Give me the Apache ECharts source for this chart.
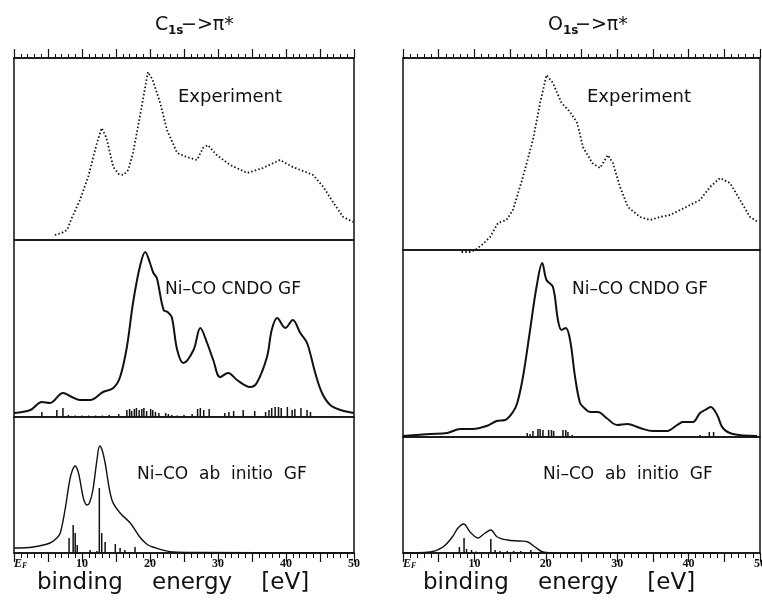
<!DOCTYPE html>
<html>
<head>
<meta charset="utf-8">
<script src="https://cdn.jsdelivr.net/npm/echarts@6/dist/echarts.min.js"></script>
<style>
html, body { margin: 0; padding: 0; background: #fff; }
#chart { width: 762px; height: 610px; }
</style>
</head>
<body>
<div id="chart"></div>
<script>
'use strict';

// [binding energy (eV), intensity (arb. units)]
// C1s -> pi*
var c1sExp = [[6.0, 5], [7.0, 7], [7.8, 10], [8.5, 22], [9.7, 40], [10.9, 63], [12.2, 97], [12.9, 112],
	[13.6, 102], [14.6, 73], [15.4, 66], [16.1, 65], [16.8, 70], [17.5, 87], [18.5, 123], [19.3, 153],
	[19.7, 168], [20.4, 160], [21.5, 137], [22.5, 110], [24, 87], [25.4, 83], [26.9, 80], [27.8, 92],
	[28.5, 95], [29.8, 85], [31.8, 75], [34.3, 67], [36.6, 72], [39.1, 80], [41, 73], [44, 65],
	[45.5, 53], [47, 37], [48.4, 23], [49.9, 18]];

var c1sCndo = [[0, 4], [2.4, 7], [4.1, 15], [5.3, 14], [7.2, 24], [8.5, 20], [9.7, 17], [11.2, 17],
	[13.1, 25], [14.6, 29], [15.6, 40], [16.6, 70], [17.5, 114], [18.5, 150], [19.3, 165], [20, 154],
	[20.5, 144], [21, 139], [22, 107], [22.6, 105], [23.2, 100], [24, 67], [24.9, 54], [26.4, 67],
	[27.4, 89], [28.4, 74], [29.3, 57], [30.3, 40], [31.5, 44], [32.8, 37], [34.7, 30], [35.7, 34],
	[37.2, 60], [37.9, 87], [38.7, 99], [39.9, 89], [41, 97], [42.1, 84], [43.1, 74], [44.3, 44],
	[45.3, 24], [46.5, 12], [48, 7], [50, 4]];

var c1sCndoLines = [[4.1, 5], [6.3, 7], [7.2, 9], [8, 2], [9, 1.5], [10, 1.5], [11, 1.5], [12, 1.5],
	[13, 1.5], [14, 2], [15.4, 3], [16.6, 7], [17.0, 8], [17.3, 6], [17.7, 8], [18.0, 9], [18.4, 7],
	[18.8, 8], [19.1, 9], [19.5, 6], [20.1, 8], [20.4, 7], [20.8, 5], [21.3, 4], [22.3, 4], [22.7, 3],
	[23.2, 2], [24, 1.5], [25, 2], [26.2, 3], [27.0, 8], [27.4, 9], [27.9, 7], [28.7, 8], [31.0, 4],
	[31.6, 5], [32.3, 6], [33.7, 7], [35.4, 6], [37.0, 5], [37.5, 7], [37.9, 9], [38.4, 10], [38.9, 10],
	[39.3, 9], [40.2, 10], [40.9, 7], [41.3, 8], [42.2, 9], [43.1, 7], [43.6, 5]];

var c1sAb = [[0, 5], [2.8, 6], [5.3, 10], [6.3, 15], [6.8, 20], [7.5, 43], [8.2, 73], [8.6, 83], [9, 87],
	[9.4, 82], [9.7, 73], [10.2, 55], [10.7, 48], [11.1, 50], [11.6, 63], [12.2, 93], [12.6, 107],
	[13.0, 102], [13.4, 90], [14.4, 53], [15.6, 40], [17.1, 30], [18.5, 16], [19.5, 9], [20.4, 6],
	[23.4, 1], [27, 0.5], [50, 0]];

var c1sAbLines = [[8.1, 15], [8.7, 28], [9.0, 20], [9.3, 8], [11.2, 3], [12.2, 2], [12.55, 65],
	[12.9, 20], [13.4, 11], [14.9, 9], [15.6, 5], [16.3, 3], [17.8, 6]];

// O1s -> pi*
var o1sExp = [[8.2, -2], [9.5, -2], [10.3, 1], [11.2, 6], [12.2, 13], [13.3, 27], [14.5, 30], [15.4, 40],
	[16.8, 73], [18.2, 110], [19.2, 147], [20.1, 175], [21, 167], [22.2, 147], [23.4, 138], [24.4, 127],
	[25.2, 103], [26.5, 87], [27.6, 82], [28.7, 95], [29.4, 87], [30.4, 63], [31.5, 43], [33.2, 33],
	[34.6, 30], [36, 33], [37.4, 35], [38.8, 40], [40.2, 45], [41.6, 50], [43, 63], [44.4, 72],
	[45.8, 67], [47.2, 50], [48.6, 33], [49.7, 28]];

var o1sCndo = [[0, 1], [3.8, 3], [6.2, 4], [8, 8], [9.8, 8], [11.7, 11], [13.1, 16], [14.3, 17],
	[15.4, 25], [16, 34], [16.8, 60], [17.8, 107], [18.7, 150], [19.5, 174], [20.1, 157], [21, 150],
	[21.7, 117], [22.2, 107], [22.8, 109], [23.4, 97], [24.1, 60], [24.8, 34], [25.4, 29], [26.2, 25],
	[27.3, 25], [28.5, 19], [30, 12], [31.4, 13], [33.2, 9], [35, 6], [37, 6], [38.4, 12], [39.2, 15],
	[40.6, 15], [41.6, 24], [42.3, 27], [43.1, 30], [44, 22], [44.8, 9], [46.2, 3], [49.6, 1]];

var o1sCndoLines = [[17.4, 4], [17.8, 3], [18.2, 6], [18.9, 8], [19.2, 8], [19.6, 7], [20.4, 7],
	[20.8, 7], [21.1, 6], [22.4, 7], [22.8, 7], [23.1, 5], [23.7, 2], [26.9, 1], [41.6, 2], [42.9, 5],
	[43.5, 5]];

var o1sAb = [[0, 0], [3.8, 1], [5.6, 6], [6.9, 16], [7.7, 25], [8.5, 29], [9.4, 21], [10.5, 15],
	[11.5, 20], [12.3, 23], [13.2, 16], [14.6, 13], [16.4, 12], [17.5, 11], [18.5, 6], [19.6, 1],
	[21.9, 0], [44, 0]];

var o1sAbLines = [[7.9, 6], [8.55, 15], [8.9, 4], [9.6, 3], [10.2, 1.5], [12.3, 14], [12.9, 3],
	[13.6, 2], [14.6, 2], [15.5, 2], [16.5, 2], [17.9, 3]];

var panelNames = ['Experiment', 'Ni\u2013CO CNDO GF', 'Ni\u2013CO  ab  initio  GF'];
var xTickLabels = ['10', '20', '30', '40', '50'];

var myChart = echarts.init(document.getElementById('chart'));

var grids = [
	{ left: 14, top: 58, width: 340, height: 182 },
	{ left: 14, top: 240, width: 340, height: 177 },
	{ left: 14, top: 417, width: 340, height: 136 },
	{ left: 403, top: 58, width: 357, height: 192 },
	{ left: 403, top: 250, width: 357, height: 187 },
	{ left: 403, top: 437, width: 357, height: 116 }
];
for (var i = 0; i < grids.length; i++) {
	grids[i].show = true;
	grids[i].borderColor = '#111';
	grids[i].borderWidth = 1.5;
	grids[i].backgroundColor = 'transparent';
	grids[i].containLabel = false;
	grids[i].outerBoundsMode = 'none';
}

function makeXAxis(idx, where) {
	var ax = {
		type: 'value', gridIndex: idx, min: 0, max: 50, interval: 5,
		splitLine: { show: false },
		axisLine: { show: false },
		axisTick: { show: false },
		minorTick: { show: false },
		axisLabel: { show: false }
	};
	if (where) {
		ax.position = where;
		ax.axisLine = { show: true, onZero: false, lineStyle: { color: '#111', width: 1.5 } };
		ax.axisTick = { show: true, inside: false, length: 9, lineStyle: { color: '#111', width: 1.2 } };
		ax.minorTick = { show: true, splitNumber: 5, length: 4, lineStyle: { color: '#111', width: 1 } };
	}
	if (where === 'bottom') {
		ax.minorTick.length = 5;
		ax.axisLabel = {
			show: true, margin: 5, color: '#111',
			fontFamily: 'Liberation Serif', fontWeight: 'bold', fontSize: 12,
			alignMinLabel: 'left',
			formatter: function (v) {
				if (v === 0) return '{ef|E}{sub|F}';
				var s = String(v);
				return xTickLabels.indexOf(s) >= 0 ? s : '';
			},
			rich: {
				ef: { fontFamily: 'Liberation Serif', fontStyle: 'italic', fontWeight: 'bold', fontSize: 12, color: '#111' },
				sub: { fontFamily: 'Liberation Serif', fontStyle: 'italic', fontWeight: 'bold', fontSize: 8, color: '#111', verticalAlign: 'bottom' }
			}
		};
	}
	return ax;
}

var yMax = [182, 177, 136, 192, 187, 116];
var xAxes = [];
var yAxes = [];
var wheres = ['top', null, 'bottom', 'top', null, 'bottom'];
for (var i = 0; i < 6; i++) {
	xAxes.push(makeXAxis(i, wheres[i]));
	yAxes.push({ type: 'value', gridIndex: i, min: 0, max: yMax[i], show: false });
}

function expSeries(idx, data) {
	return {
		type: 'line', xAxisIndex: idx, yAxisIndex: idx, data: data, symbol: 'none', clip: false,
		lineStyle: { color: '#111', width: 1.8, type: [1.5, 2.2] }
	};
}
function curveSeries(idx, data, w) {
	return {
		type: 'line', xAxisIndex: idx, yAxisIndex: idx, data: data, symbol: 'none', smooth: 0.35,
		lineStyle: { color: '#111', width: w }
	};
}
function lineSpectrum(idx, data) {
	return {
		type: 'bar', xAxisIndex: idx, yAxisIndex: idx, data: data, barWidth: 1.5,
		itemStyle: { color: '#111' }
	};
}

var series = [
	expSeries(0, c1sExp),
	curveSeries(1, c1sCndo, 2), lineSpectrum(1, c1sCndoLines),
	curveSeries(2, c1sAb, 1.4), lineSpectrum(2, c1sAbLines),
	expSeries(3, o1sExp),
	curveSeries(4, o1sCndo, 2), lineSpectrum(4, o1sCndoLines),
	curveSeries(5, o1sAb, 1.4), lineSpectrum(5, o1sAbLines)
];

var txt = function (x, y, s, size, extra) {
	var st = { text: s, x: x, y: y, fill: '#111', fontFamily: 'DejaVu Sans', fontSize: size, textAlign: 'left', textVerticalAlign: 'middle' };
	for (var k in extra) st[k] = extra[k];
	return { type: 'text', style: st, z: 10 };
};

var graphics = [
	// titles
	txt(155, 25, 'C', 19), txt(168, 31, '1s', 12, { fontWeight: 'bold' }), txt(181, 25, '\u2212>\u03c0*', 19),
	txt(548, 25, 'O', 19), txt(563, 31, '1s', 12, { fontWeight: 'bold' }), txt(575, 25, '\u2212>\u03c0*', 19),
	// panel names
	txt(178, 97, panelNames[0], 18), txt(165, 290, panelNames[1], 17), txt(137, 475, panelNames[2], 17),
	txt(587, 97, panelNames[0], 18), txt(572, 290, panelNames[1], 17), txt(543, 475, panelNames[2], 17),
	// axis names
	txt(37, 583, 'binding    energy    [eV]', 23),
	txt(423, 583, 'binding    energy    [eV]', 23)
];

myChart.setOption({
	animation: false,
	backgroundColor: '#fff',
	grid: grids,
	xAxis: xAxes,
	yAxis: yAxes,
	series: series,
	graphic: graphics
});
</script>
</body>
</html>
